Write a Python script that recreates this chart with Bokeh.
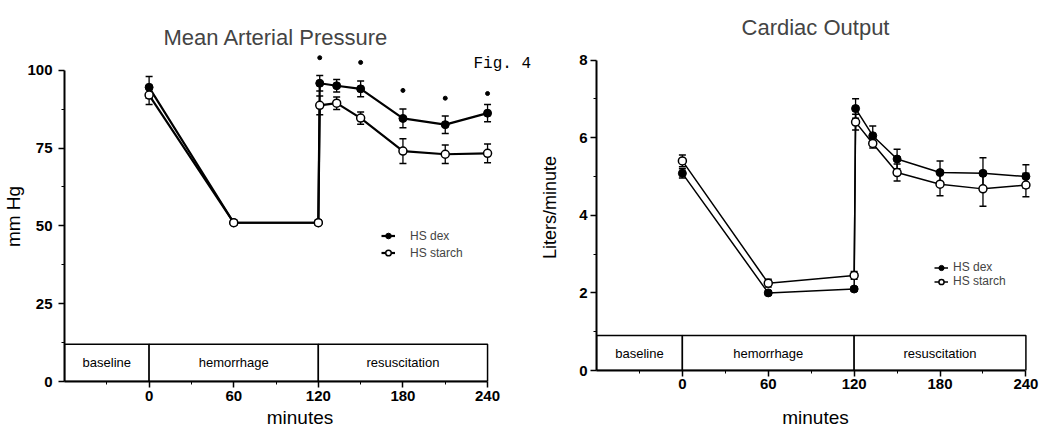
from bokeh.plotting import figure
from bokeh.models import ColumnDataSource, Whisker, TeeHead, Legend, LegendItem, FixedTicker, Label
from bokeh.layouts import row
from bokeh.embed import file_html
from bokeh.resources import INLINE
from bokeh.core.properties import value

# ---------------- data ----------------
minutes = [0, 60, 120, 121, 133, 150, 180, 210, 240]

map_dex = [94.5, 51, 51, 95.8, 95.0, 94.0, 84.5, 82.5, 86.2]
map_dex_se = [3.5, 0.8, 0.8, 2.5, 2.0, 2.5, 3.0, 2.8, 2.8]
map_starch = [92.0, 51, 51, 88.7, 89.4, 84.6, 74.0, 73.0, 73.3]
map_starch_se = [3.0, 0.8, 0.8, 3.0, 2.0, 2.0, 4.0, 3.0, 3.0]
map_sig_minutes = [121, 150, 180, 210, 240]
map_sig_level = [104, 102.5, 93.5, 91, 92.5]

co_dex = [5.08, 2.0, 2.1, 6.75, 6.05, 5.45, 5.1, 5.08, 5.0]
co_dex_se = [0.12, 0.05, 0.05, 0.25, 0.25, 0.25, 0.3, 0.4, 0.3]
co_starch = [5.4, 2.25, 2.45, 6.4, 5.85, 5.1, 4.8, 4.68, 4.78]
co_starch_se = [0.15, 0.1, 0.1, 0.2, 0.12, 0.22, 0.3, 0.45, 0.3]

phase_labels = ["baseline", "hemorrhage", "resuscitation"]
phase_start = [-60, 0, 120]
phase_end = [0, 120, 240]

x_ticks = [0, 60, 120, 180, 240]
map_ticks = [0, 25, 50, 75, 100]
co_ticks = [0, 2, 4, 6, 8]

FONT = "Liberation Sans"


def midpoints(t):
    return [t[0] - (t[1] - t[0]) / 2] + [(a + b) / 2 for a, b in zip(t[:-1], t[1:])]


def panel(title, ylabel, dex, dex_se, starch, starch_se, yticks, y_end, band_top,
          width, x_end, bl, bt, bb, br, lw, legend_loc, legend_row, legend_font, legend_standoff,
          ylab_standoff, ytick_standoff, xlab_standoff, xtick_standoff, ylab_size,
          title_align, title_offset, title_standoff):
    p = figure(width=width, height=430, x_range=(-60, x_end), y_range=(0, y_end),
               output_backend="svg", toolbar_location=None, frame_align=False,
               min_border_left=bl, min_border_top=bt, min_border_bottom=bb, min_border_right=br)
    p.outline_line_color = None
    p.grid.visible = False
    p.background_fill_color = "white"

    # title
    p.title.text = title
    p.title.align = title_align
    p.title.offset = title_offset
    p.title.text_font = FONT
    p.title.text_font_size = "22px"
    p.title.text_font_style = "normal"
    p.title.standoff = title_standoff

    # phase band
    p.quad(left=phase_start, right=phase_end, bottom=0, top=band_top,
           fill_color="white", line_color="black", line_width=1.5)
    p.text(x=[(a + b) / 2 for a, b in zip(phase_start, phase_end)],
           y=[band_top / 2] * len(phase_labels), text=phase_labels,
           text_align="center", text_baseline="middle",
           text_font=value(FONT), text_font_size="13px", text_color="black")

    # series
    l1 = p.line(minutes, dex, line_color="black", line_width=lw)
    l2 = p.line(minutes, starch, line_color="black", line_width=lw)
    for vals, se in ((dex, dex_se), (starch, starch_se)):
        src = ColumnDataSource(dict(t=minutes,
                                    up=[v + s for v, s in zip(vals, se)],
                                    lo=[v - s for v, s in zip(vals, se)]))
        p.add_layout(Whisker(source=src, base="t", upper="up", lower="lo",
                             line_color="black", line_width=1.3,
                             upper_head=TeeHead(size=7, line_color="black", line_width=1.5),
                             lower_head=TeeHead(size=7, line_color="black", line_width=1.5)))
    s1 = p.scatter(minutes, dex, marker="circle", size=8, fill_color="black", line_color="black")
    s2 = p.scatter(minutes, starch, marker="circle", size=8, fill_color="white",
                   line_color="black", line_width=1.5)

    leg = Legend(items=[LegendItem(label="HS dex", renderers=[l1, s1]),
                        LegendItem(label="HS starch", renderers=[l2, s2])],
                 location=legend_loc, glyph_width=14, glyph_height=legend_row,
                 label_height=legend_row, label_standoff=legend_standoff, spacing=0, padding=0,
                 margin=0, border_line_color=None, background_fill_alpha=0,
                 label_text_font=FONT, label_text_font_size=legend_font)
    p.add_layout(leg)

    # axes
    xa = p.xaxis[0]
    xa.ticker = FixedTicker(ticks=x_ticks, minor_ticks=midpoints(x_ticks))
    xa.bounds = (-60, 240)
    xa.axis_label = "minutes"
    ya = p.yaxis[0]
    ya.ticker = FixedTicker(ticks=yticks, minor_ticks=midpoints(yticks)[1:])
    ya.bounds = (0, yticks[-1])
    ya.axis_label = ylabel
    for ax in (xa, ya):
        ax.axis_line_width = 2
        ax.axis_line_color = "black"
        ax.major_tick_in = 0
        ax.major_tick_out = 6
        ax.minor_tick_in = 0
        ax.minor_tick_out = 3
        ax.major_tick_line_width = 1.5
        ax.major_label_text_font = FONT
        ax.major_label_text_font_size = "15px"
        ax.major_label_text_font_style = "bold"
        ax.major_label_text_color = "black"
        ax.axis_label_text_font = FONT
        ax.axis_label_text_font_style = "normal"
        ax.axis_label_text_color = "black"
    xa.axis_label_text_font_size = "19px"
    ya.axis_label_text_font_size = ylab_size
    ya.axis_label_standoff = ylab_standoff
    ya.major_label_standoff = ytick_standoff
    xa.axis_label_standoff = xlab_standoff
    xa.major_label_standoff = xtick_standoff
    return p


left = panel("Mean Arterial Pressure", "mm Hg", map_dex, map_dex_se, map_starch, map_starch_se,
             map_ticks, 106, 12, 537, 274, 63, 51, 49, 2, 2.2, (317, 120), 17, "12px", 15,
             0, 6, 3, 3, "19px", "left", 99, 4)
left.scatter(map_sig_minutes, map_sig_level, marker="circle", size=4,
             fill_color="black", line_color="black")
left.add_layout(Label(x=409, y=318, x_units="screen", y_units="screen", text="Fig. 4",
                      text_font="Liberation Mono", text_font_size="16px",
                      text_baseline="middle", text_color="black"))

right = panel("Cardiac Output", "Liters/minute", co_dex, co_dex_se, co_starch, co_starch_se,
              co_ticks, 8.4, 0.9, 510, 246, 58, 44, 60, 13, 1.5, (338, 82), 13, "12px", 5,
              16, 3, 15, 2, "18px", "center", 0, 9)

layout = row(left, right)
open("out.html", "w").write(file_html(layout, INLINE))
